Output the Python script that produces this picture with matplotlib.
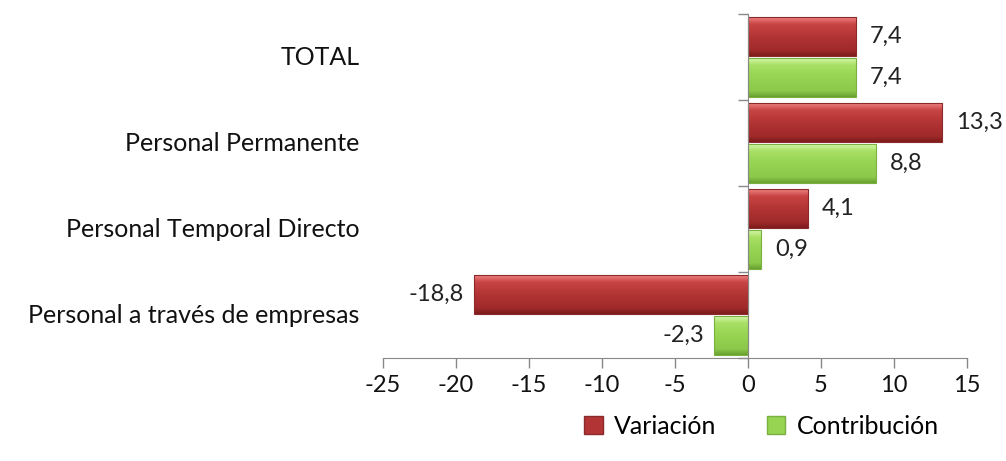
import numpy as np
import matplotlib.pyplot as plt
from matplotlib.colors import to_rgb
from matplotlib.patches import Rectangle

plt.rcParams['font.family'] = ['Lato', 'DejaVu Sans']

# Datos
categorias = ['TOTAL', 'Personal Permanente', 'Personal Temporal Directo',
              'Personal a través de empresas']
variacion = [7.4, 13.3, 4.1, -18.8]
contribucion = [7.4, 8.8, 0.9, -2.3]
xticks = [-25, -20, -15, -10, -5, 0, 5, 10, 15]

rojo = ['#ee8080', '#c84444', '#b23434', '#a02a2a', '#7e1c1c']
verde = ['#d4f5a8', '#a8e064', '#96d452', '#8cc84a', '#6aa232']
fs = 17


def gradiente(paleta, n=60):
    stops = [0.0, 0.18, 0.5, 0.85, 1.0]
    cols = np.array([to_rgb(c) for c in paleta])
    t = np.linspace(0, 1, n)
    img = np.stack([np.interp(t, stops, cols[:, k]) for k in range(3)], axis=-1)
    return img[:, None, :]


def barra(ax, y, w, h, paleta, borde):
    x0, x1 = min(0, w), max(0, w)
    ax.imshow(gradiente(paleta), extent=(x0, x1, y + h / 2, y - h / 2),
              aspect='auto', interpolation='bilinear', zorder=2)
    ax.add_patch(Rectangle((x0, y - h / 2), x1 - x0, h, fill=False,
                           edgecolor=borde, lw=0.8, zorder=3))


fig = plt.figure(figsize=(10.06, 4.61), dpi=100)
ax = fig.add_axes([0.3807, 0.2234, 0.5805, 0.7462])

h = 0.45
off = 0.235
for i in range(len(categorias)):
    barra(ax, i - off, variacion[i], h, rojo, '#8a2a2a')
    barra(ax, i + off, contribucion[i], h, verde, '#7ab040')
    for val, yy in [(variacion[i], i - off), (contribucion[i], i + off)]:
        txt = f'{val:.1f}'.replace('.', ',')
        if val >= 0:
            ax.annotate(txt, (val, yy), xytext=(10, 0), textcoords='offset points',
                        ha='left', va='center', fontsize=fs, color='#222222')
        else:
            ax.annotate(txt, (val, yy), xytext=(-7, 0), textcoords='offset points',
                        ha='right', va='center', fontsize=fs, color='#222222')
    ax.annotate(categorias[i], (0, i), xycoords=ax.get_yaxis_transform(),
                xytext=(-17, 0), textcoords='offset points',
                ha='right', va='center', fontsize=18, color='#111111')

ax.set_xlim(-25, 15)
ax.set_ylim(3.5, -0.5)
ax.set_xticks(xticks)
ax.set_xticklabels([str(t) for t in xticks], fontsize=fs, color='#111111')
ax.tick_params(axis='x', length=7, width=1, color='#888888', direction='out', pad=5)

for s in ['top', 'right']:
    ax.spines[s].set_visible(False)
ax.spines['bottom'].set_color('#888888')
ax.spines['left'].set_position(('data', 0))
ax.spines['left'].set_color('#888888')
ax.spines['left'].set_zorder(4)
ax.set_yticks([-0.5, 0.5, 1.5, 2.5, 3.5])
ax.set_yticklabels([])
ax.tick_params(axis='y', length=7, width=1, color='#888888', direction='out')

# Leyenda
hs = [Rectangle((0, 0), 1, 1, facecolor='#b23434', edgecolor='#8a2a2a'),
      Rectangle((0, 0), 1, 1, facecolor='#96d452', edgecolor='#7ab040')]
fig.legend(hs, ['Variación', 'Contribución'], loc='center',
           bbox_to_anchor=(0.757, 0.075), ncol=2, frameon=False, fontsize=18,
           handlelength=0.75, handleheight=0.75, handletextpad=0.45, columnspacing=2.0)

fig.savefig('out.png', dpi=100)
